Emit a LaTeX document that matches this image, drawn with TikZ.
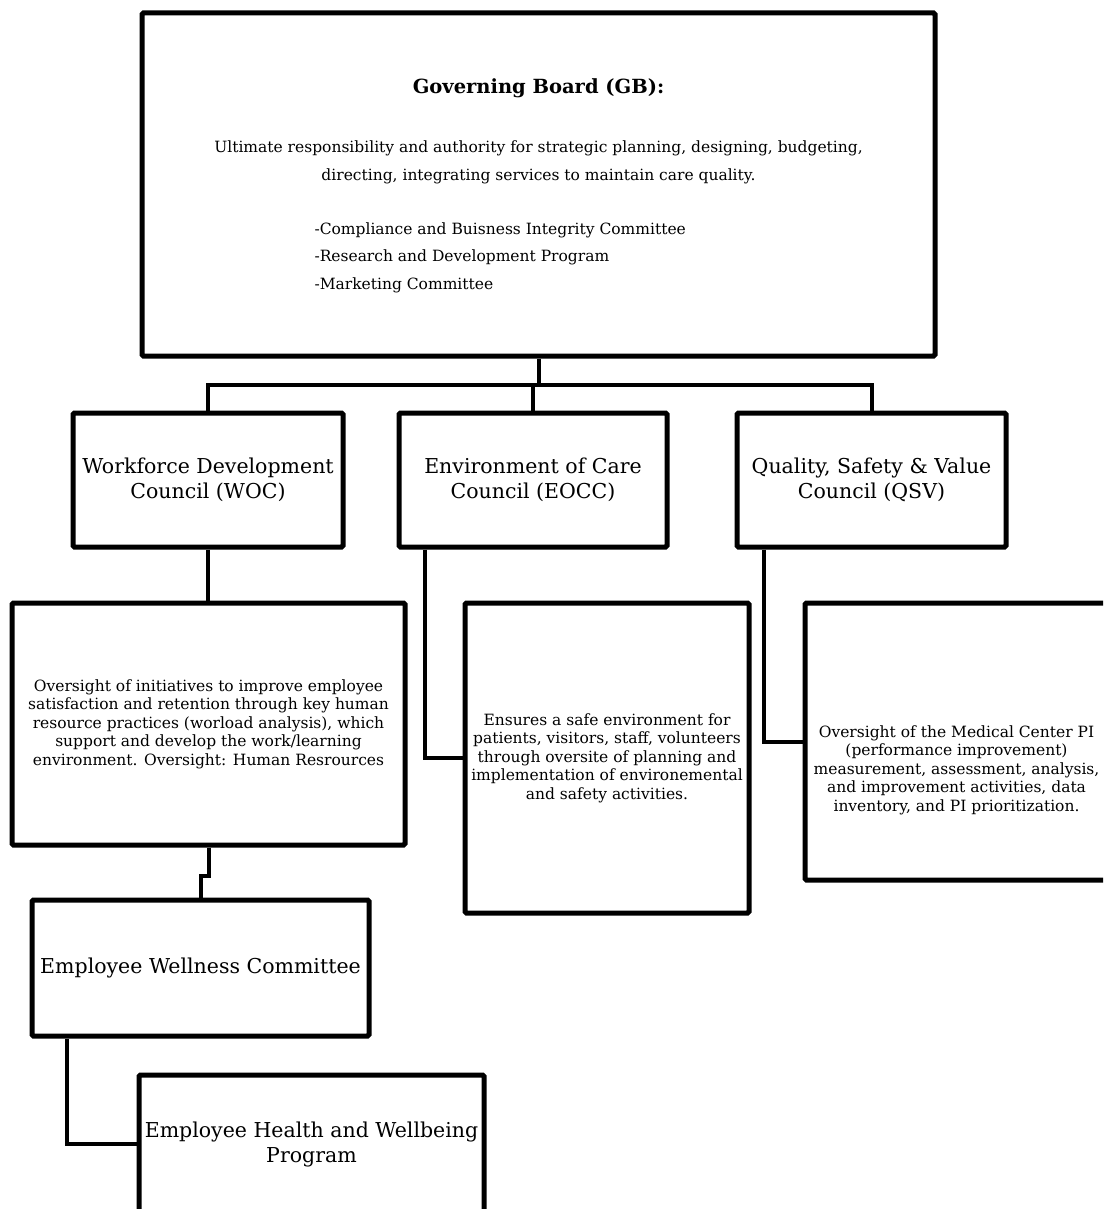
\documentclass[tikz,border=0pt]{standalone}
\usepackage{fontspec}
\setmainfont{DejaVu Serif}
\begin{document}
\begin{tikzpicture}[x=1pt,y=-1pt,
  box/.style={draw=black, line width=5pt, rounded corners=1.5pt, inner sep=0pt, fill=white, align=center},
  link/.style={draw=black, line width=4pt},
  bigtext/.style={font=\fontsize{20.5}{25}\selectfont, align=center},
  council/.style={box, bigtext, minimum width=#1, minimum height=134pt},
  desc/.style={font=\fontsize{15.5}{18.5}\selectfont, align=center},
]
\clip (0,0) rectangle (1103,1209);
\fill[white] (0,0) rectangle (1103,1209);

% Governing board
\node[box, minimum width=793pt, minimum height=343pt] (gb) at (538.5,184.5) {};
\node[font=\bfseries\fontsize{19.5}{23}\selectfont] (gbtitle) at (538.5,88) {Governing Board (GB):};
\node[font=\fontsize{15.5}{28}\selectfont, align=center] (gbtext) at (538.5,162)
  {Ultimate responsibility and authority for strategic planning, designing, budgeting,\\directing, integrating services to maintain care quality.};
\node[font=\fontsize{15.5}{27.5}\selectfont, align=left, anchor=west] (gblist) at (311,257.5)
  {-Compliance and Buisness Integrity Committee\\-Research and Development Program\\-Marketing Committee};

% Councils
\node[council=270pt] (woc) at (208,480) {Workforce Development\\Council (WOC)};
\node[council=268pt] (eocc) at (533,480) {Environment of Care\\Council (EOCC)};
\node[council=269pt] (qsv) at (871.5,480) {Quality, Safety \& Value\\Council (QSV)};

% Descriptions
\node[box, desc, minimum width=393pt, minimum height=242pt] (wocd) at (208.5,724)
  {Oversight of initiatives to improve employee\\satisfaction and retention through key human\\resource practices (worload analysis), which\\support and develop the work/learning\\environment. Oversight: Human Resrources};
\node[box, desc, minimum width=284pt, minimum height=310pt] (eoccd) at (607,758)
  {Ensures a safe environment for\\patients, visitors, staff, volunteers\\through oversite of planning and\\implementation of environemental\\and safety activities.};
\node[box, minimum width=303pt, minimum height=277pt] (qsvd) at (956.5,741.5) {};
\node[desc] (qsvdtext) at (956.5,770)
  {Oversight of the Medical Center PI\\(performance improvement)\\measurement, assessment, analysis,\\and improvement activities, data\\inventory, and PI prioritization.};

% Wellness
\node[box, bigtext, minimum width=337pt, minimum height=136pt] (ewc) at (200.5,968) {Employee Wellness Committee};
\node[box, bigtext, minimum width=345pt, minimum height=138pt] (ehwp) at (311.5,1144) {Employee Health and Wellbeing\\Program};

% Connectors
\coordinate (bar) at (538.5,385);
\draw[link] (gb.south) -- (bar);
\draw[link] (woc.north) |- (bar) -| (qsv.north);
\draw[link] (eocc.north) -- (eocc.north |- bar);
\draw[link] (woc.south) -- (woc.south |- wocd.north);
\draw[link] ([xshift=-108pt]eocc.south) |- (eoccd.west);
\draw[link] ([xshift=-107.5pt]qsv.south) |- (qsvd.west);
\draw[link] (wocd.south) -- ++(0,28) -| (ewc.north);
\draw[link] ([xshift=-133.5pt]ewc.south) |- (ehwp.west);
\end{tikzpicture}
\end{document}
